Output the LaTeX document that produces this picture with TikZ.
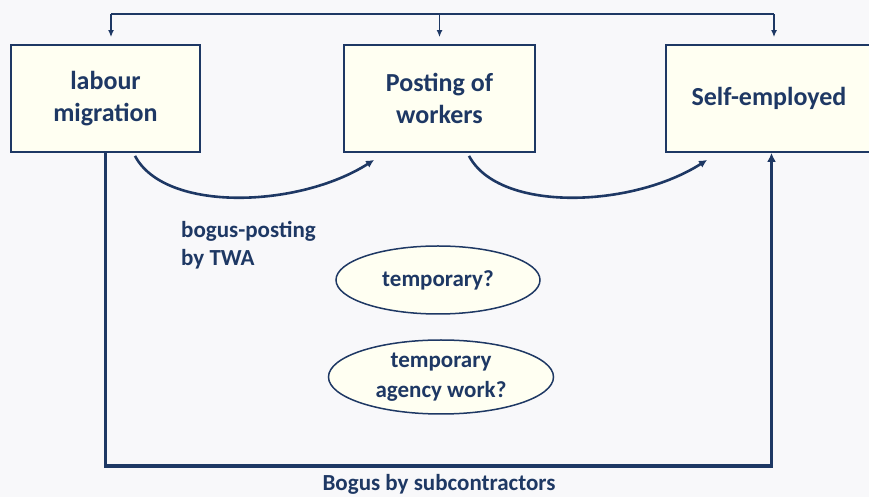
\documentclass[tikz,border=0pt]{standalone}
\usepackage{fontspec}
\setmainfont{Carlito}
\usetikzlibrary{arrows.meta,shapes.geometric}
\definecolor{navy}{RGB}{30,56,100}
\definecolor{cream}{RGB}{255,255,242}
\definecolor{bggray}{RGB}{248,248,250}

\begin{document}
\begin{tikzpicture}[x=1pt, y=1pt,
  box/.style={draw=navy, line width=1.8pt, fill=cream, text=navy, align=center,
    font=\fontsize{26}{32}\selectfont\bfseries, inner sep=0pt, minimum height=107pt},
  oval/.style={ellipse, draw=navy, line width=1.5pt, fill=cream, text=navy, align=center,
    font=\fontsize{23}{30}\selectfont\bfseries, inner sep=0pt},
  lbl/.style={text=navy, font=\fontsize{23}{28}\selectfont\bfseries, inner sep=0pt},
  busline/.style={draw=navy, line width=1.6pt},
  busarr/.style={busline, -{Latex[length=7pt,width=6pt]}},
  curvearr/.style={draw=navy, line width=2.6pt, -{Latex[length=8pt,width=8pt]}},
  thickarr/.style={draw=navy, line width=3.4pt, -{Latex[length=9pt,width=9pt]}}]

\useasboundingbox (0,0) rectangle (869,497);
\fill [bggray] (0,0) rectangle (869,497);

% the three boxes
\node [box, minimum width=189pt] (lab) at (105.5,398.5) {labour\\migration};
\node [box, minimum width=191pt] (post) at (439.5,398.5) {Posting of\\workers};
\node [box, minimum width=206pt] (self) at (769,398.5) {Self-employed};

% top bus
\coordinate (busL) at ([xshift=5.5pt, yshift=30pt]lab.north);
\coordinate (busR) at ([xshift=5pt, yshift=30pt]self.north);
\draw [busline] (busL) -- (busR);
\draw [busarr] (busL) -- ([xshift=5.5pt, yshift=7pt]lab.north);
\draw [busarr] (busL -| post.north) -- ([yshift=7pt]post.north);
\draw [busarr] (busR) -- ([xshift=5pt, yshift=7pt]self.north);

% curved arrows
\draw [curvearr] ([xshift=29.5pt, yshift=-3pt]lab.south) .. controls +(30,-57) and +(-75,-48) .. ([xshift=31pt, yshift=-7pt]post.south west);
\draw [curvearr] ([xshift=29.5pt, yshift=-3pt]post.south) .. controls +(30,-57) and +(-75,-48) .. ([xshift=42pt, yshift=-7pt]self.south west);

% bogus by subcontractors
\draw [thickarr] (lab.south) -- ++(0,-313) -| ([xshift=2.5pt]self.south);

\node [lbl, align=left, anchor=west] (twa) at (181,252) {bogus-posting\\by TWA};
\node [oval, minimum width=204pt, minimum height=68pt] (temp) at (438,217) {temporary?};
\node [oval, minimum width=225pt, minimum height=74pt] (agency) at (441,120) {temporary\\agency work?};
\node [lbl, anchor=base] (sub) at (439,6) {Bogus by subcontractors};

\end{tikzpicture}
\end{document}
